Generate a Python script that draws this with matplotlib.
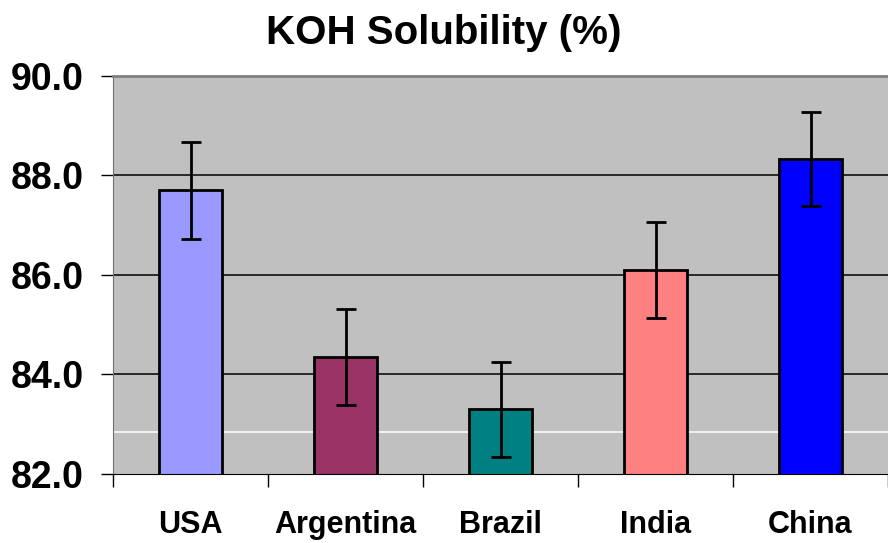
import matplotlib
matplotlib.use("Agg")
import matplotlib.pyplot as plt
from matplotlib import font_manager

countries = ["USA", "Argentina", "Brazil", "India", "China"]
solubility = [87.7, 84.35, 83.3, 86.1, 88.33]
errors = [0.97, 0.97, 0.95, 0.96, 0.95]
bar_colors = ["#9999FF", "#993366", "#008080", "#FF8080", "#0000FF"]
y_ticks = [82.0, 84.0, 86.0, 88.0, 90.0]
white_line = 82.85

names = {f.name for f in font_manager.fontManager.ttflist}
font = "Liberation Sans Narrow" if "Liberation Sans Narrow" in names else "Liberation Sans"
plt.rcParams["font.family"] = [font, "DejaVu Sans"]
plt.rcParams["font.weight"] = "bold"

fig = plt.figure(figsize=(8.88, 5.43), dpi=100)
ax = fig.add_axes([0.1273, 0.1271, 0.8727, 0.733])
ax.set_facecolor("#C0C0C0")

x = list(range(len(countries)))
for v in y_ticks[1:]:
    ax.axhline(v, color="black", lw=1.1, zorder=1)
ax.axhline(white_line, color="white", lw=1.1, zorder=1)

ax.bar(x, solubility, width=0.41, bottom=0, color=bar_colors,
       edgecolor="black", linewidth=2, zorder=2)
ax.errorbar(x, solubility, yerr=errors, fmt="none", ecolor="black",
            elinewidth=2, capsize=7.5, capthick=2, zorder=3)

ax.set_xlim(-0.5, 4.5)
ax.set_ylim(82, 90)
ax.set_yticks(y_ticks)
ax.set_yticklabels([f"{v:.1f}" for v in y_ticks], fontsize=27, fontweight="bold")
ax.set_xticks(x)
ax.set_xticklabels(countries, fontsize=22, fontweight="bold")
ax.set_xticks([i - 0.5 for i in range(len(countries) + 1)], minor=True)
ax.tick_params(axis="x", which="major", length=0, pad=26)
ax.tick_params(axis="x", which="minor", length=9, width=1, direction="out")
ax.tick_params(axis="y", length=9, width=1, direction="out", pad=12)

ax.spines["left"].set_color("#707070")
ax.spines["top"].set_color("#808080")
ax.spines["top"].set_linewidth(2)
ax.spines["bottom"].set_color("black")
ax.spines["right"].set_visible(False)

fig.text(0.5, 0.94, "KOH Solubility (%)", ha="center", va="center",
         fontsize=29, fontweight="bold")

fig.savefig("out.png", dpi=100)
